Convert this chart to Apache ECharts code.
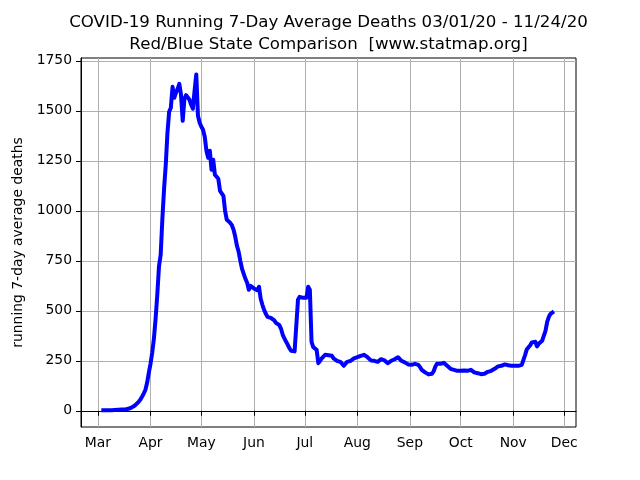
<!DOCTYPE html>
<html>
<head>
<meta charset="utf-8">
<script src="https://cdn.jsdelivr.net/npm/echarts@6/dist/echarts.min.js"></script>
<style>
  html, body { margin: 0; padding: 0; background: #fff; }
  #main { width: 640px; height: 480px; }
</style>
</head>
<body>
<div id="main"></div>
<script>
// running 7-day average deaths, one array per month
var months = ['2020-03', '2020-04', '2020-05', '2020-06', '2020-07', '2020-08', '2020-09', '2020-10', '2020-11'];
var firstDays = [3, 1, 1, 1, 1, 1, 1, 1, 1];
var marDeaths = [3, 3, 3, 3, 3, 3, 3, 4, 4, 4, 5, 5, 6, 7, 7, 8, 10, 13, 17, 22, 28, 36, 45, 56, 70, 86, 105, 140, 190];
var aprDeaths = [235, 290, 360, 460, 580, 722, 780, 960, 1110, 1230, 1390, 1495, 1515, 1620, 1565, 1590, 1610, 1635, 1580, 1450,
	1560, 1578, 1575, 1555, 1530, 1510, 1600, 1682, 1475, 1440];
var mayDeaths = [1420, 1405, 1370, 1300, 1265, 1300, 1205, 1255, 1180, 1170, 1160, 1100, 1105, 1075, 1000, 955, 945, 940, 928, 905,
	870, 825, 795, 750, 710, 685, 660, 640, 605, 625, 615];
var junDeaths = [612, 605, 603, 620, 560, 530, 505, 485, 470, 462, 465, 467, 452, 440, 435, 428, 410, 380, 362, 345,
	330, 312, 300, 297, 297, 297, 555, 570, 572, 565];
var julDeaths = [563, 565, 620, 605, 345, 318, 308, 305, 238, 250, 262, 270, 280, 280, 278, 278, 275, 262, 255, 250,
	248, 245, 235, 225, 235, 245, 248, 250, 255, 262, 268];
var augDeaths = [268, 275, 275, 278, 280, 275, 268, 260, 252, 250, 250, 250, 245, 247, 258, 268, 252, 245, 238, 240,
	250, 255, 258, 262, 268, 265, 250, 247, 242, 238, 232];
var sepDeaths = [230, 230, 235, 235, 232, 230, 218, 205, 198, 192, 185, 182, 180, 185, 197, 220, 235, 238, 235, 240,
	240, 232, 225, 215, 210, 208, 205, 203, 200, 200];
var octDeaths = [200, 198, 202, 200, 200, 202, 205, 198, 192, 190, 188, 185, 183, 180, 185, 190, 195, 198, 200, 205,
	210, 218, 222, 222, 225, 230, 232, 235, 228, 225, 225];
var novDeaths = [225, 225, 225, 225, 228, 230, 240, 280, 308, 318, 328, 342, 352, 345, 322, 335, 345, 350, 360, 400,
	445, 470, 485, 493, 497];
var deathsByMonth = [marDeaths, aprDeaths, mayDeaths, junDeaths, julDeaths, augDeaths, sepDeaths, octDeaths, novDeaths];

// axis ticks
var monthNames = ['Jan', 'Feb', 'Mar', 'Apr', 'May', 'Jun', 'Jul', 'Aug', 'Sep', 'Oct', 'Nov', 'Dec'];
var xTickMonths = ['2020-03', '2020-04', '2020-05', '2020-06', '2020-07', '2020-08', '2020-09', '2020-10', '2020-11', '2020-12'];
var yTicks = [0, 250, 500, 750, 1000, 1250, 1500, 1750];

function toTime(ym, d) {
	var p = ym.split('-');
	return new Date(+p[0], +p[1] - 1, d).getTime();
}

var seriesData = [];
for (var m = 0; m < months.length; m++) {
	var vals = deathsByMonth[m];
	for (var i = 0; i < vals.length; i++) {
		seriesData.push([toTime(months[m], firstDays[m] + i), vals[i]]);
	}
}
var xTicks = [];
for (var k = 0; k < xTickMonths.length; k++) {
	xTicks.push(toTime(xTickMonths[k], 1));
}

var DAY = 86400000;
var font = 'DejaVu Sans';
var myChart = echarts.init(document.getElementById('main'), null, { renderer: 'canvas' });
myChart.setOption({
	animation: false,
	backgroundColor: '#ffffff',
	textStyle: { fontFamily: font },
	title: {
		text: 'COVID-19 Running 7-Day Average Deaths 03/01/20 - 11/24/20\nRed/Blue State Comparison  [www.statmap.org]',
		left: 328.5,
		top: 12,
		padding: 0,
		textAlign: 'center',
		textStyle: {
			fontFamily: font,
			fontSize: 16.67,
			fontWeight: 'normal',
			color: '#000',
			lineHeight: 22
		}
	},
	grid: {
		left: 81,
		right: 64,
		top: 58,
		bottom: 53,
		show: true,
		borderColor: '#000',
		borderWidth: 1
	},
	xAxis: {
		// dates kept as plain millisecond values so the month ticks can be placed exactly
		type: 'value',
		min: toTime('2020-03', 1) - 10 * DAY,
		max: toTime('2020-03', 1) + 282 * DAY,
		axisLine: { show: true, lineStyle: { color: '#000', width: 1 } },
		axisTick: { show: true, length: 5, lineStyle: { color: '#000' }, customValues: xTicks },
		axisLabel: {
			customValues: xTicks,
			margin: 9,
			color: '#000',
			fontSize: 13.9,
			fontFamily: font,
			formatter: function(v) {
				return monthNames[new Date(v).getMonth()];
			}
		},
		splitLine: { show: true, lineStyle: { color: '#b0b0b0', width: 1 } }
	},
	yAxis: {
		type: 'value',
		min: -81,
		max: 1764,
		name: 'running 7-day average deaths',
		nameLocation: 'middle',
		nameGap: 43,
		nameTextStyle: { fontFamily: font, fontSize: 13.9, color: '#000' },
		axisLine: { show: true, lineStyle: { color: '#000', width: 1 } },
		axisTick: { show: true, length: 5, lineStyle: { color: '#000' }, customValues: yTicks },
		axisLabel: {
			customValues: yTicks,
			margin: 9,
			color: '#000',
			fontSize: 13.9,
			fontFamily: font,
			formatter: function(v) {
				return String(v);
			}
		},
		splitLine: { show: true, lineStyle: { color: '#b0b0b0', width: 1 } }
	},
	series: [{
		type: 'line',
		data: seriesData,
		showSymbol: false,
		lineStyle: { color: '#0000ff', width: 4, join: 'round' },
		itemStyle: { color: '#0000ff' }
	}]
});
</script>
</body>
</html>
